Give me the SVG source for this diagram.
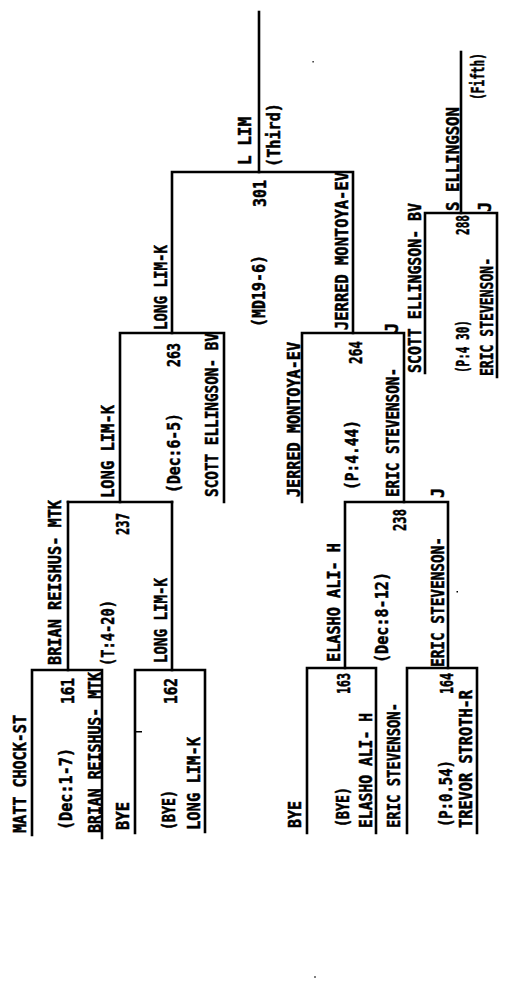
<svg xmlns="http://www.w3.org/2000/svg" width="506" height="1004" viewBox="0 0 506 1004">
<style>
.t{font-family:"DejaVu Sans Mono","Liberation Mono",monospace;font-weight:bold;font-size:17px;fill:#000;stroke:#000;stroke-width:0.5}
.c{fill:none;stroke:#000;stroke-width:2.6;stroke-linecap:square}
</style>
<rect width="506" height="1004" fill="#fff"/>
<g id="connectors" class="c">
<path d="M32,835V670H102V838"/>
<path d="M135,833V670H205V832"/>
<path d="M68,670V502"/>
<path d="M172,670V502"/>
<path d="M68,502H172"/>
<path d="M120,502V333H224V502"/>
<path d="M172,333V172H353V333"/>
<path d="M259,172V12"/>
<path d="M302,502V333H404V502"/>
<path d="M345,668V502H448V668"/>
<path d="M307,833V668H376V833"/>
<path d="M407,833V668H477V833"/>
<path d="M425,373V213H497V377"/>
<path d="M461,213V52"/>
</g>
<g id="m161">
<text class="t" transform="translate(25.5,833) rotate(-90)" textLength="118" lengthAdjust="spacingAndGlyphs">MATT CHOCK-ST</text>
<text class="t" transform="translate(71.5,830) rotate(-90)" textLength="82" lengthAdjust="spacingAndGlyphs">(Dec:1-7)</text>
<text class="t" transform="translate(73.5,704) rotate(-90)" textLength="26" lengthAdjust="spacingAndGlyphs">161</text>
<text class="t" transform="translate(100.5,833) rotate(-90)" textLength="161" lengthAdjust="spacingAndGlyphs">BRIAN REISHUS- MTK</text>
</g>
<g id="m162">
<text class="t" transform="translate(128.5,830) rotate(-90)" textLength="28" lengthAdjust="spacingAndGlyphs">BYE</text>
<text class="t" transform="translate(174.5,830) rotate(-90)" textLength="40" lengthAdjust="spacingAndGlyphs">(BYE)</text>
<text class="t" transform="translate(176.5,704) rotate(-90)" textLength="26" lengthAdjust="spacingAndGlyphs">162</text>
<text class="t" transform="translate(199.5,830) rotate(-90)" textLength="93" lengthAdjust="spacingAndGlyphs">LONG LIM-K</text>
</g>
<g id="m237">
<text class="t" transform="translate(60.5,665) rotate(-90)" textLength="165" lengthAdjust="spacingAndGlyphs">BRIAN REISHUS- MTK</text>
<text class="t" transform="translate(113.5,666) rotate(-90)" textLength="66" lengthAdjust="spacingAndGlyphs">(T:4-20)</text>
<text class="t" transform="translate(166.5,663) rotate(-90)" textLength="85" lengthAdjust="spacingAndGlyphs">LONG LIM-K</text>
<text class="t" transform="translate(128.5,535) rotate(-90)" textLength="22" lengthAdjust="spacingAndGlyphs">237</text>
</g>
<g id="m263">
<text class="t" transform="translate(113.5,498) rotate(-90)" textLength="93" lengthAdjust="spacingAndGlyphs">LONG LIM-K</text>
<text class="t" transform="translate(179.5,493) rotate(-90)" textLength="80" lengthAdjust="spacingAndGlyphs">(Dec:6-5)</text>
<text class="t" transform="translate(179.5,367) rotate(-90)" textLength="24" lengthAdjust="spacingAndGlyphs">263</text>
<text class="t" transform="translate(217.5,497) rotate(-90)" textLength="164" lengthAdjust="spacingAndGlyphs">SCOTT ELLINGSON- BV</text>
</g>
<g id="m301">
<text class="t" transform="translate(166.5,330) rotate(-90)" textLength="85" lengthAdjust="spacingAndGlyphs">LONG LIM-K</text>
<text class="t" transform="translate(264.5,327) rotate(-90)" textLength="72" lengthAdjust="spacingAndGlyphs">(MD19-6)</text>
<text class="t" transform="translate(265.5,207) rotate(-90)" textLength="27" lengthAdjust="spacingAndGlyphs">301</text>
<text class="t" transform="translate(347.5,330) rotate(-90)" textLength="158" lengthAdjust="spacingAndGlyphs">JERRED MONTOYA-EV</text>
</g>
<g id="final">
<text class="t" transform="translate(250.5,165) rotate(-90)" textLength="48" lengthAdjust="spacingAndGlyphs">L LIM</text>
<text class="t" transform="translate(279.5,167) rotate(-90)" textLength="64" lengthAdjust="spacingAndGlyphs">(Third)</text>
</g>
<g id="m264">
<text class="t" transform="translate(299.5,497) rotate(-90)" textLength="155" lengthAdjust="spacingAndGlyphs">JERRED MONTOYA-EV</text>
<text class="t" transform="translate(357.5,490) rotate(-90)" textLength="70" lengthAdjust="spacingAndGlyphs">(P:4.44)</text>
<text class="t" transform="translate(361.5,364) rotate(-90)" textLength="23" lengthAdjust="spacingAndGlyphs">264</text>
<text class="t" transform="translate(398.5,497) rotate(-90)" textLength="129" lengthAdjust="spacingAndGlyphs">ERIC STEVENSON-</text>
<text class="t" transform="translate(397.5,333) rotate(-90)">J</text>
</g>
<g id="m238">
<text class="t" transform="translate(339.5,662) rotate(-90)" textLength="119" lengthAdjust="spacingAndGlyphs">ELASHO ALI- H</text>
<text class="t" transform="translate(387.5,663) rotate(-90)" textLength="91" lengthAdjust="spacingAndGlyphs">(Dec:8-12)</text>
<text class="t" transform="translate(405.5,531) rotate(-90)" textLength="22" lengthAdjust="spacingAndGlyphs">238</text>
<text class="t" transform="translate(443.5,667) rotate(-90)" textLength="130" lengthAdjust="spacingAndGlyphs">ERIC STEVENSON-</text>
<text class="t" transform="translate(443.5,498) rotate(-90)">J</text>
</g>
<g id="m163">
<text class="t" transform="translate(300.5,828) rotate(-90)" textLength="27" lengthAdjust="spacingAndGlyphs">BYE</text>
<text class="t" transform="translate(349.5,694) rotate(-90)" textLength="21" lengthAdjust="spacingAndGlyphs">163</text>
<text class="t" transform="translate(348.5,827) rotate(-90)" textLength="40" lengthAdjust="spacingAndGlyphs">(BYE)</text>
<text class="t" transform="translate(371.5,828) rotate(-90)" textLength="115" lengthAdjust="spacingAndGlyphs">ELASHO ALI- H</text>
</g>
<g id="m164">
<text class="t" transform="translate(399.5,828) rotate(-90)" textLength="125" lengthAdjust="spacingAndGlyphs">ERIC STEVENSON-</text>
<text class="t" transform="translate(452.5,694) rotate(-90)" textLength="21" lengthAdjust="spacingAndGlyphs">164</text>
<text class="t" transform="translate(451.5,827) rotate(-90)" textLength="67" lengthAdjust="spacingAndGlyphs">(P:0.54)</text>
<text class="t" transform="translate(471.5,828) rotate(-90)" textLength="138" lengthAdjust="spacingAndGlyphs">TREVOR STROTH-R</text>
</g>
<g id="m288">
<text class="t" transform="translate(420.5,373) rotate(-90)" textLength="170" lengthAdjust="spacingAndGlyphs">SCOTT ELLINGSON- BV</text>
<text class="t" transform="translate(468.5,235) rotate(-90)" textLength="20" lengthAdjust="spacingAndGlyphs">288</text>
<text class="t" transform="translate(468.5,373) rotate(-90)" textLength="53" lengthAdjust="spacingAndGlyphs">(P:4 30)</text>
<text class="t" transform="translate(492.5,376) rotate(-90)" textLength="118" lengthAdjust="spacingAndGlyphs">ERIC STEVENSON-</text>
<text class="t" transform="translate(490.5,212) rotate(-90)">J</text>
</g>
<g id="fifth">
<text class="t" transform="translate(458.5,211) rotate(-90)" textLength="104" lengthAdjust="spacingAndGlyphs">S ELLINGSON</text>
<text class="t" transform="translate(483.5,100) rotate(-90)" textLength="47" lengthAdjust="spacingAndGlyphs">(Fifth)</text>
</g>
<g id="marks" fill="#000">
<rect x="136" y="731" width="6" height="1.5"/>
<rect x="312.5" y="61" width="1.2" height="1.5"/>
<rect x="314.5" y="976" width="1" height="2"/>
<rect x="456.5" y="591" width="1.5" height="1.5"/>
</g>
</svg>
